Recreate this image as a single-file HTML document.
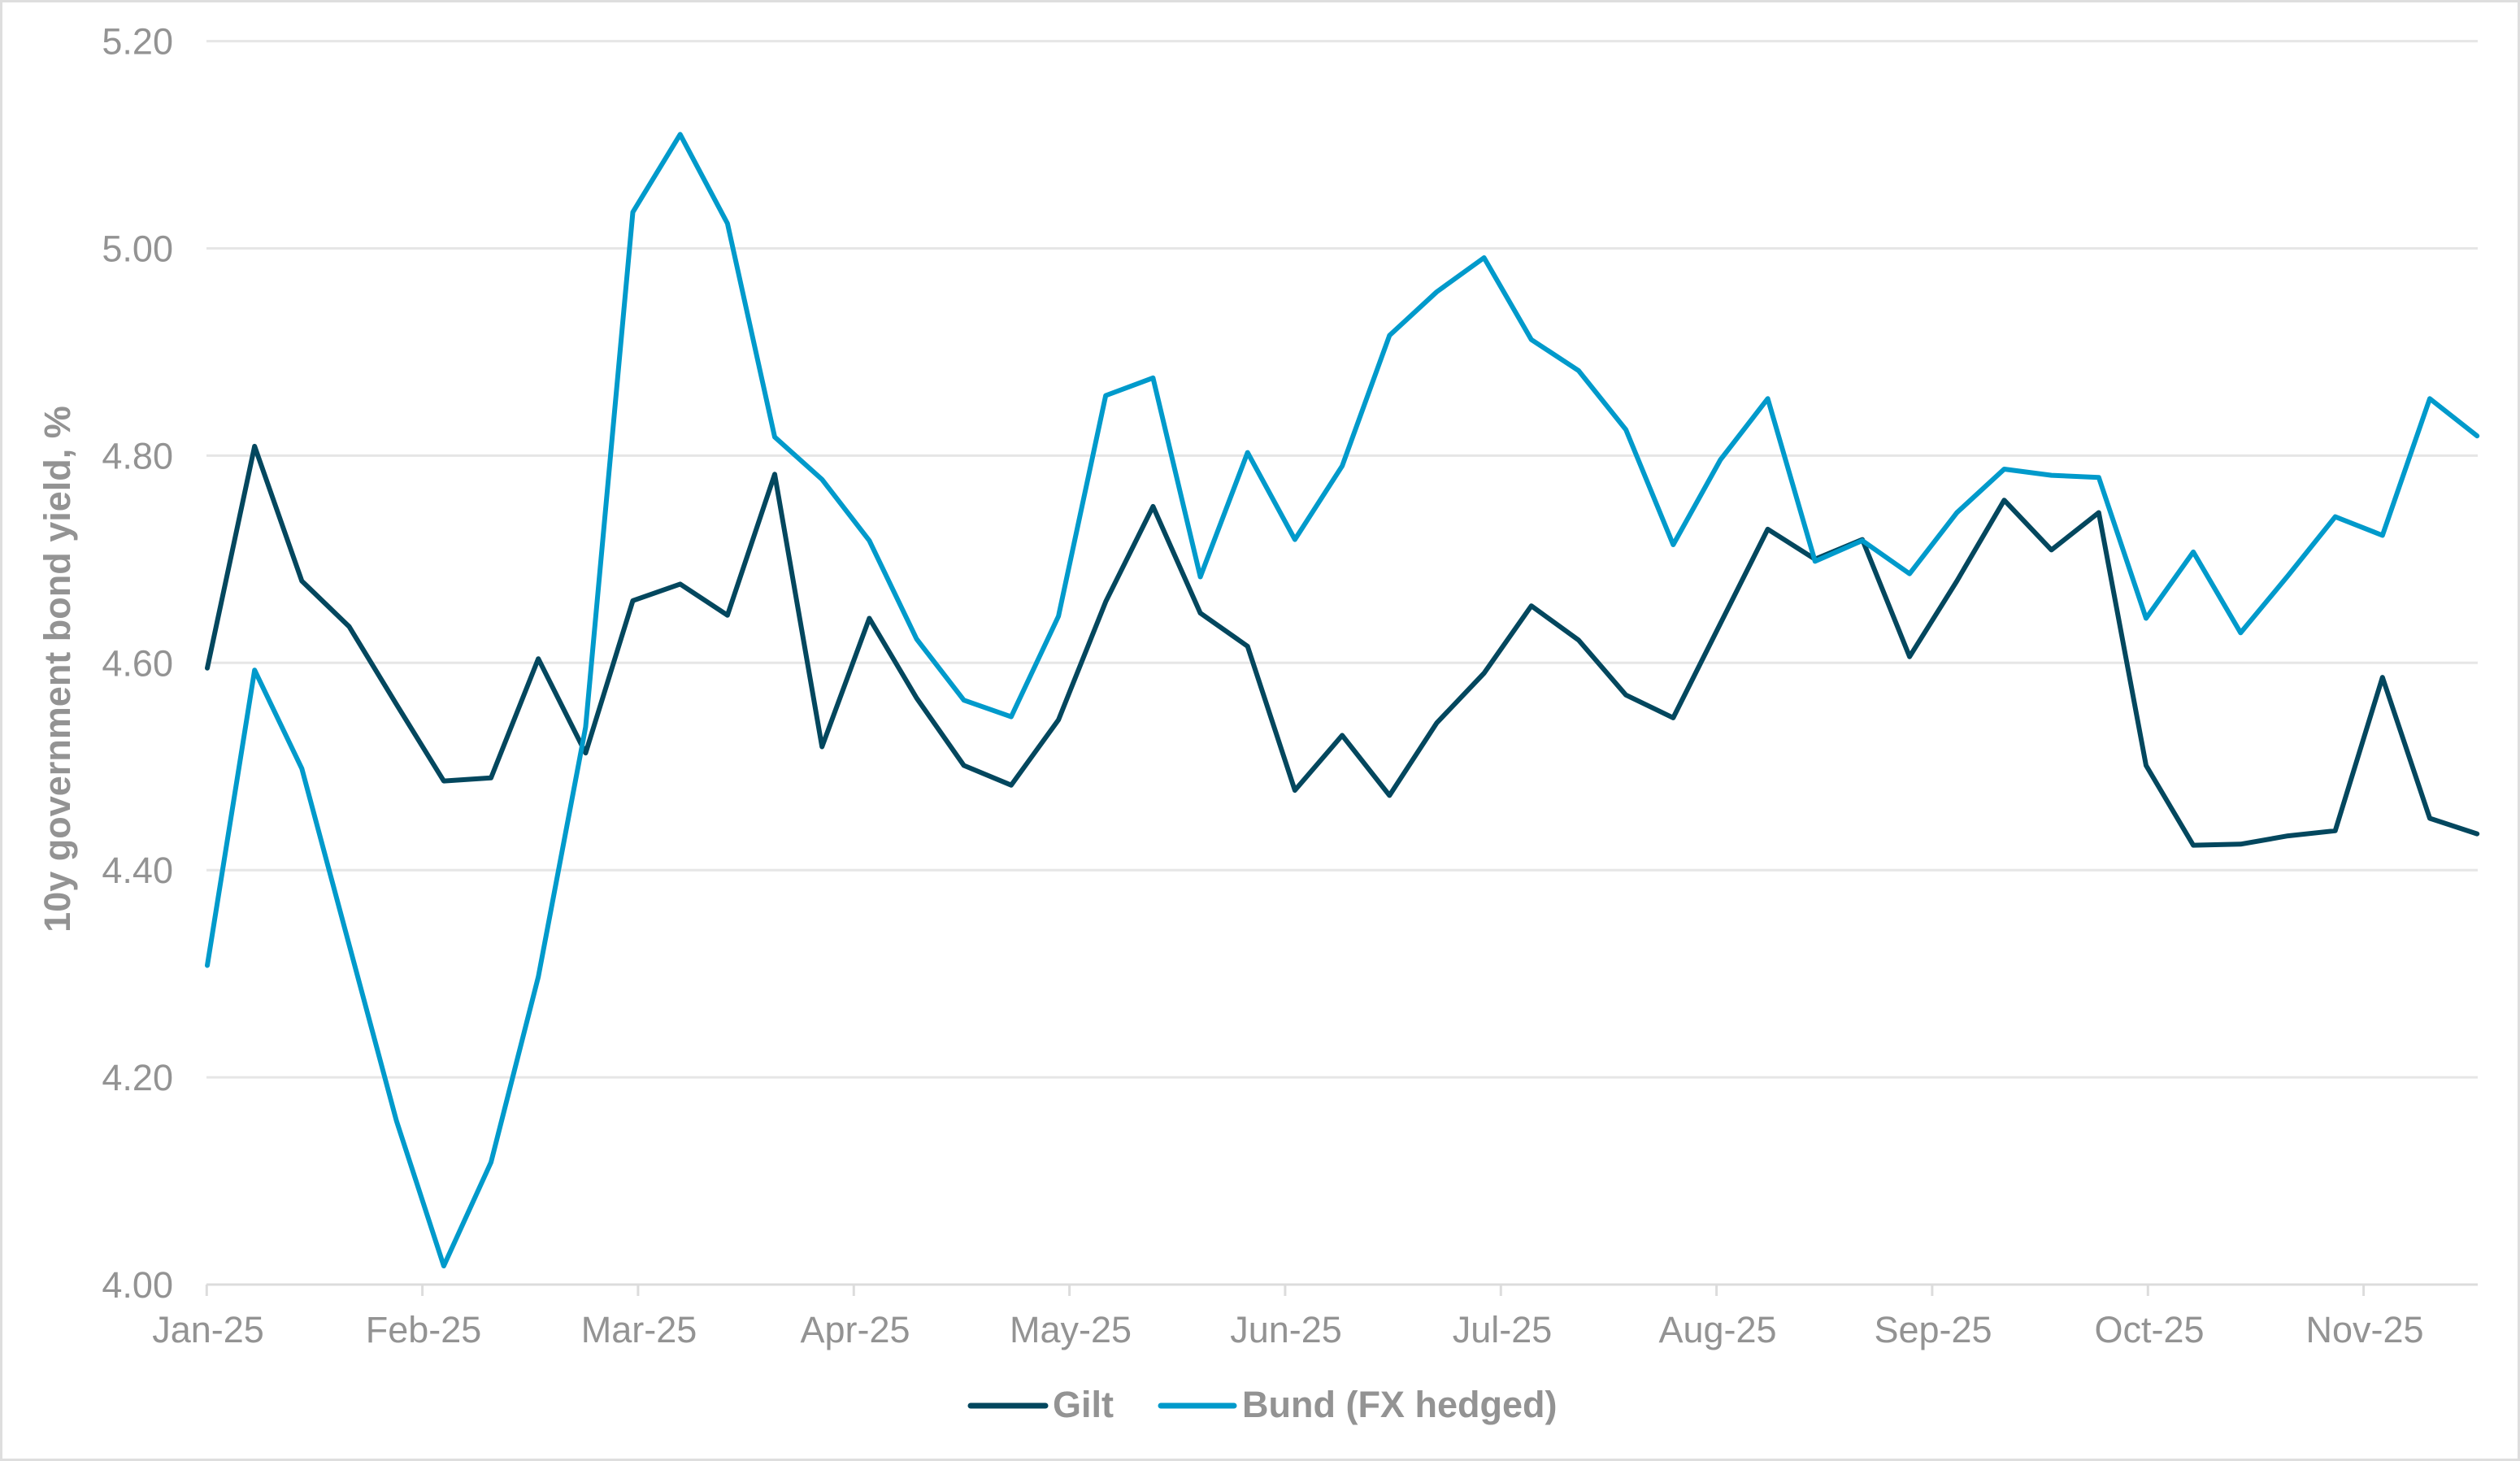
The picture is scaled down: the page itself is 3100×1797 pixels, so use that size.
<!DOCTYPE html>
<html>
<head>
<meta charset="utf-8">
<style>
  html, body { margin: 0; padding: 0; background: #ffffff; }
  svg { display: block; }
  text { font-family: "Liberation Sans", Arial, sans-serif; }
</style>
</head>
<body>
<svg width="3100" height="1797" viewBox="0 0 3100 1797" xmlns="http://www.w3.org/2000/svg">
  <rect x="0" y="0" width="3100" height="1797" fill="#ffffff"/>
  <rect x="1.5" y="1.5" width="3097" height="1794" fill="none" stroke="#dedede" stroke-width="3"/>

  <!-- gridlines -->
  <g stroke="#e6e6e6" stroke-width="3">
    <line x1="254" y1="50.6" x2="3048" y2="50.6"/>
    <line x1="254" y1="305.5" x2="3048" y2="305.5"/>
    <line x1="254" y1="560.4" x2="3048" y2="560.4"/>
    <line x1="254" y1="815.3" x2="3048" y2="815.3"/>
    <line x1="254" y1="1070.2" x2="3048" y2="1070.2"/>
    <line x1="254" y1="1325.1" x2="3048" y2="1325.1"/>
  </g>
  <!-- x axis -->
  <line x1="254" y1="1580" x2="3048" y2="1580" stroke="#dcdcdc" stroke-width="3"/>
  <g stroke="#dcdcdc" stroke-width="3">
    <line x1="254.3" y1="1580" x2="254.3" y2="1594"/>
    <line x1="519.6" y1="1580" x2="519.6" y2="1594"/>
    <line x1="784.9" y1="1580" x2="784.9" y2="1594"/>
    <line x1="1050.3" y1="1580" x2="1050.3" y2="1594"/>
    <line x1="1315.6" y1="1580" x2="1315.6" y2="1594"/>
    <line x1="1580.9" y1="1580" x2="1580.9" y2="1594"/>
    <line x1="1846.3" y1="1580" x2="1846.3" y2="1594"/>
    <line x1="2111.6" y1="1580" x2="2111.6" y2="1594"/>
    <line x1="2376.9" y1="1580" x2="2376.9" y2="1594"/>
    <line x1="2642.3" y1="1580" x2="2642.3" y2="1594"/>
    <line x1="2907.6" y1="1580" x2="2907.6" y2="1594"/>
  </g>

  <!-- y labels -->
  <g fill="#939393" font-size="45" text-anchor="end">
    <text x="213" y="66.6">5.20</text>
    <text x="213" y="321.5">5.00</text>
    <text x="213" y="576.4">4.80</text>
    <text x="213" y="831.3">4.60</text>
    <text x="213" y="1086.2">4.40</text>
    <text x="213" y="1341.1">4.20</text>
    <text x="213" y="1596">4.00</text>
  </g>

  <!-- x labels -->
  <g fill="#939393" font-size="45" text-anchor="middle">
    <text x="256" y="1651">Jan-25</text>
    <text x="521" y="1651">Feb-25</text>
    <text x="786" y="1651">Mar-25</text>
    <text x="1052" y="1651">Apr-25</text>
    <text x="1317" y="1651">May-25</text>
    <text x="1582" y="1651">Jun-25</text>
    <text x="1848" y="1651">Jul-25</text>
    <text x="2113" y="1651">Aug-25</text>
    <text x="2378" y="1651">Sep-25</text>
    <text x="2644" y="1651">Oct-25</text>
    <text x="2909" y="1651">Nov-25</text>
  </g>

  <!-- y axis title -->
  <text transform="translate(86,823) rotate(-90)" fill="#939393" font-size="45" font-weight="bold" text-anchor="middle">10y government bond yield, %</text>

  <!-- Gilt -->
  <polyline fill="none" stroke="#03475e" stroke-width="6" stroke-linejoin="round" stroke-linecap="round"
    points="255,821.7 313.2,548.9 371.3,714.6 429.5,770.7 487.7,866.3 545.9,960.6 604,956.8 662.2,810.2 720.4,926.2 778.5,738.8 836.7,718.4 894.9,756.7 953,583.3 1011.2,918.5 1069.4,760.5 1127.6,858.6 1185.7,941.5 1243.9,965.7 1302.1,885.4 1360.2,740.1 1418.4,622.9 1476.6,754.1 1534.7,794.9 1592.9,972.1 1651.1,904.5 1709.3,978.4 1767.4,889.2 1825.6,828 1883.8,745.2 1941.9,787.3 2000.1,854.8 2058.3,882.9 2116.4,766.9 2174.6,650.9 2232.8,687.8 2291,663.6 2349.1,807.7 2407.3,714.6 2465.5,615.2 2523.6,676.4 2581.8,630.5 2640,941.5 2698.1,1039.6 2756.3,1038.3 2814.5,1028.1 2872.7,1021.8 2930.8,833.1 2989,1006.5 3047.2,1025.6"/>

  <!-- Bund -->
  <polyline fill="none" stroke="#009acb" stroke-width="6" stroke-linejoin="round" stroke-linecap="round"
    points="255,1187.5 313.2,824.2 371.3,945.3 429.5,1162 487.7,1378.6 545.9,1557.1 604,1429.6 662.2,1201.5 720.4,894.3 778.5,260.9 836.7,165.3 894.9,274.9 953,537.5 1011.2,589.7 1069.4,664.9 1127.6,786 1185.7,861.2 1243.9,881.6 1302.1,757.9 1360.2,486.5 1418.4,464.8 1476.6,709.5 1534.7,556.6 1592.9,663.6 1651.1,573.1 1709.3,412.6 1767.4,359 1825.6,317 1883.8,417.7 1941.9,455.9 2000.1,528.5 2058.3,670 2116.4,565.5 2174.6,490.3 2232.8,690.4 2291,664.9 2349.1,705.7 2407.3,630.5 2465.5,577 2523.6,584.6 2581.8,587.2 2640,760.5 2698.1,678.9 2756.3,778.3 2814.5,708.2 2872.7,635.6 2930.8,658.5 2989,490.3 3047.2,536.2"/>

  <!-- legend -->
  <line x1="1194" y1="1729" x2="1286" y2="1729" stroke="#03475e" stroke-width="7" stroke-linecap="round"/>
  <text x="1295" y="1743" fill="#939393" font-size="45" font-weight="bold">Gilt</text>
  <line x1="1428" y1="1729" x2="1518" y2="1729" stroke="#009acb" stroke-width="7" stroke-linecap="round"/>
  <text x="1528" y="1743" fill="#939393" font-size="45" font-weight="bold">Bund (FX hedged)</text>
</svg>
</body>
</html>
